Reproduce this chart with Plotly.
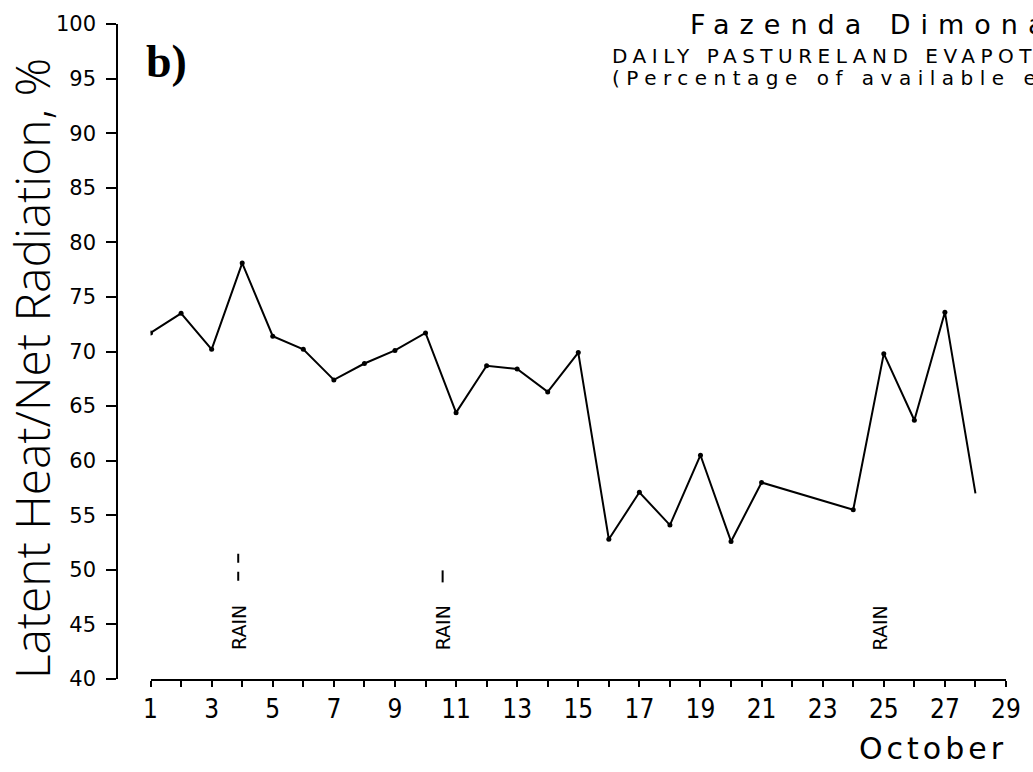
import plotly.graph_objects as go

# ---- data ----
days = [1, 2, 3, 4, 5, 6, 7, 8, 9, 10, 11, 12, 13, 14, 15, 16, 17, 18, 19, 20, 21, 24, 25, 26, 27, 28]
ratio = [71.7, 73.5, 70.2, 78.1, 71.4, 70.2, 67.4, 68.9, 70.1, 71.7, 64.4, 68.7, 68.4, 66.3, 69.9,
         52.8, 57.1, 54.1, 60.5, 52.6, 58.0, 55.5, 69.8, 63.7, 73.6, 57.0]
# last value (day 28) is where the line ends, drawn without a dot
marked_days = days[:-1]
marked_ratio = ratio[:-1]

rain_days = [3.87, 10.56, 24.87]
rain_label_y = 44.7
rain_bar_days = [3.87, 10.56]
rain_bar_top = [51.6, 49.95]
rain_bar_bottom = [49.0, 48.85]
rain_bar_dash = ["dash", "solid"]

x_ticks = list(range(1, 30))
x_ticklabels = [str(d) if d % 2 == 1 else "" for d in x_ticks]
y_ticks = list(range(40, 101, 5))

title_text = "Fazenda Dimona"
subtitle_text = "DAILY PASTURELAND EVAPOTRANSPIRATION"
subtitle2_text = "(Percentage of available energy)"
panel_text = "b)"
xlabel_text = "October"
ylabel_text = "Latent Heat/Net Radiation, %"
rain_text = "RAIN"

# ---- layout geometry (pixels) ----
W, H = 1033, 772
ML, MR, MT, MB = 117, 15, 22, 93
PW = W - ML - MR
PH = H - MT - MB


def px(xp):
    return (xp - ML) / PW


def py(yp):
    return (H - MB - yp) / PH


FONT = "DejaVu Sans"
LIGHT = "Open Sans"

fig = go.Figure()
fig.add_trace(go.Scatter(x=days, y=ratio, mode="lines",
                         line=dict(color="black", width=2), hoverinfo="skip",
                         showlegend=False))
fig.add_trace(go.Scatter(x=marked_days, y=marked_ratio, mode="markers",
                         marker=dict(color="black", size=5), showlegend=False))
for d, top, bot, dash in zip(rain_bar_days, rain_bar_top, rain_bar_bottom, rain_bar_dash):
    fig.add_trace(go.Scatter(x=[d, d], y=[bot, top], mode="lines",
                             line=dict(color="black", width=2, dash=dash),
                             showlegend=False, hoverinfo="skip"))

annotations = []
for d in rain_days:
    annotations.append(dict(x=d, y=rain_label_y, xref="x", yref="y", text=rain_text,
                            textangle=-90, showarrow=False, xanchor="center", yanchor="middle",
                            font=dict(family=FONT, size=19, color="black")))

annotations += [
    dict(x=px(696), y=py(22.5), xref="paper", yref="paper", text=title_text, showarrow=False,
         xanchor="left", yanchor="middle", align="left",
         font=dict(family=FONT, size=27, color="black")),
    dict(x=px(617), y=py(54.5), xref="paper", yref="paper", text=subtitle_text, showarrow=False,
         xanchor="left", yanchor="middle", align="left",
         font=dict(family=FONT, size=20, color="black")),
    dict(x=px(617), y=py(76), xref="paper", yref="paper", text=subtitle2_text, showarrow=False,
         xanchor="left", yanchor="middle", align="left",
         font=dict(family=FONT, size=20, color="black")),
    dict(x=px(144), y=py(60), xref="paper", yref="paper", text=panel_text, showarrow=False,
         xanchor="left", yanchor="middle", align="left",
         font=dict(family="Liberation Serif", size=46, color="black", weight="bold")),
    dict(x=px(867), y=py(749), xref="paper", yref="paper", text=xlabel_text, showarrow=False,
         xanchor="left", yanchor="middle", align="left",
         font=dict(family=FONT, size=30, color="black")),
    dict(x=px(31), y=py(368), xref="paper", yref="paper", text=ylabel_text, showarrow=False,
         textangle=-90, xanchor="center", yanchor="middle",
         font=dict(family=LIGHT, size=48, color="black", weight=300)),
]

fig.update_layout(
    width=W, height=H,
    margin=dict(l=ML, r=MR, t=MT, b=MB, pad=0),
    paper_bgcolor="white", plot_bgcolor="white",
    showlegend=False,
    annotations=annotations,
    xaxis=dict(domain=[px(151), 1], range=[1, 29], showgrid=False, zeroline=False,
               showline=True, linecolor="black", linewidth=1.5,
               tickmode="array", tickvals=x_ticks, ticktext=x_ticklabels,
               ticks="outside", ticklen=6, tickwidth=1.5, tickcolor="black",
               tickfont=dict(family="Liberation Sans Narrow, DejaVu Sans Condensed, Roboto",
                             size=26, color="black")),
    yaxis=dict(range=[40, 100], anchor="free", position=0, showgrid=False, zeroline=False,
               showline=True, linecolor="black", linewidth=1.5,
               tickmode="array", tickvals=y_ticks,
               ticks="outside", ticklen=10, tickwidth=1.5, tickcolor="black",
               ticklabelstandoff=6,
               tickfont=dict(family=FONT, size=21, color="black")),
)

post = """
document.body.style.margin = '0';
document.body.style.overflow = 'hidden';
var gd = document.getElementById('{plot_id}');
var spacing = {"Fazenda Dimona": 10, "DAILY PASTURELAND EVAPOTRANSPIRATION": 5.5,
               "(Percentage of available energy)": 6.5, "October": 4};
function applySpacing() {
  gd.querySelectorAll('text.annotation-text').forEach(function (t) {
    var s = spacing[t.textContent];
    if (s !== undefined) { t.style.letterSpacing = s + 'px'; }
  });
}
applySpacing();
gd.on('plotly_afterplot', applySpacing);
"""

fig.write_html("out.html", config={"displayModeBar": False}, post_script=post)
